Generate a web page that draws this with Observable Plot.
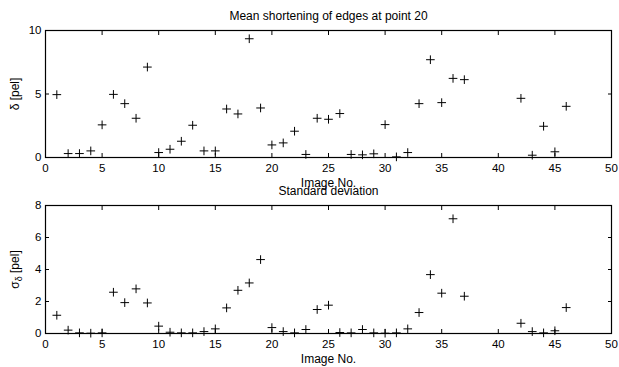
<!DOCTYPE html>
<html>
<head>
<meta charset="utf-8">
<script src="https://cdn.jsdelivr.net/npm/d3@7"></script>
<script src="https://cdn.jsdelivr.net/npm/@observablehq/plot@0.6"></script>
<style>
  body { margin: 0; background: white; }
  #chart { position: relative; width: 619px; height: 367px; background: white; overflow: hidden; }
  #chart svg { position: absolute; left: 0; }
</style>
</head>
<body>
<div id="chart"></div>
<script>
const imageNo = [1,2,3,4,5,6,7,8,9,10,11,12,13,14,15,16,17,18,19,20,21,22,23,24,25,26,27,28,29,30,31,32,33,34,35,36,37,42,43,44,45,46];
const meanShortening = [4.95,0.31,0.31,0.52,2.57,4.97,4.24,3.09,7.12,0.39,0.65,1.28,2.54,0.52,0.52,3.82,3.43,9.35,3.90,0.99,1.15,2.07,0.24,3.09,3.01,3.46,0.24,0.21,0.29,2.59,0.05,0.39,4.24,7.70,4.32,6.23,6.13,4.66,0.18,2.46,0.45,4.03];
const stdDeviation = [1.14,0.21,0.04,0.02,0.04,2.58,1.93,2.79,1.91,0.46,0.08,0.04,0.04,0.12,0.29,1.60,2.70,3.16,4.62,0.37,0.12,0.04,0.25,1.50,1.77,0.06,0.04,0.25,0.04,0.02,0.04,0.29,1.31,3.68,2.52,7.17,2.33,0.64,0.12,0.04,0.17,1.62];
const xTicks = [0,5,10,15,20,25,30,35,40,45,50];
const yTicksMean = [0,5,10];
const yTicksStd = [0,2,4,6,8];
const titleMean = "Mean shortening of edges at point 20";
const titleStd = "Standard deviation";
const xLabel = "Image No.";
const yLabelMean = "δ [pel]";
const yLabelStd = "σδ [pel]";

function panel(values, yDomain, yTicks, title, ylabel, height, marginTop, marginBottom) {
  const data = imageNo.map((x, i) => ({x, y: values[i]}));
  return Plot.plot({
    width: 619,
    height,
    marginLeft: 45,
    marginRight: 8,
    marginTop,
    marginBottom,
    style: {fontFamily: "'Liberation Sans', Arial, sans-serif", fontSize: "11.5px", background: "transparent", overflow: "visible", color: "black"},
    x: {domain: [0, 50]},
    y: {domain: yDomain},
    marks: [
      Plot.frame({stroke: "black", strokeWidth: 1.2}),
      Plot.axisX(xTicks, {anchor: "bottom", tickSize: 0, tickPadding: 6, label: null}),
      Plot.axisX(xTicks, {anchor: "bottom", tickSize: 4, dy: -4, text: null, label: null}),
      Plot.axisX(xTicks, {anchor: "top", tickSize: 4, dy: 4, text: null, label: null}),
      Plot.axisY(yTicks, {anchor: "left", tickSize: 0, tickPadding: 4, label: null}),
      Plot.axisY(yTicks, {anchor: "left", tickSize: 4, dx: 4, text: null, label: null}),
      Plot.axisY(yTicks, {anchor: "right", tickSize: 4, dx: -4, text: null, label: null}),
      Plot.dot(data, {x: "x", y: "y", symbol: "plus", r: 2.9, stroke: "black", strokeWidth: 1}),
      Plot.text([title], {frameAnchor: "top", dy: -11, lineAnchor: "bottom", fontSize: 12}),
      Plot.text([xLabel], {frameAnchor: "bottom", dy: 29, lineAnchor: "bottom", fontSize: 12}),
      Plot.text([ylabel], {frameAnchor: "left", dx: -27, rotate: -90, lineAnchor: "bottom", textAnchor: "middle", fontSize: 12})
    ]
  });
}

const topPanel = panel(meanShortening, [0, 10], yTicksMean, titleMean, yLabelMean, 177, 30, 20);
const bottomPanel = panel(stdDeviation, [0, 8], yTicksStd, titleStd, yLabelStd, 190, 28, 34);
topPanel.style.top = "0px";
bottomPanel.style.top = "177px";
const chart = document.getElementById("chart");
chart.appendChild(topPanel);
chart.appendChild(bottomPanel);

// subscript δ in the lower y label
bottomPanel.querySelectorAll("text").forEach(t => {
  if (t.textContent === yLabelStd) {
    const ns = "http://www.w3.org/2000/svg";
    while (t.firstChild) t.removeChild(t.firstChild);
    const a = document.createElementNS(ns, "tspan"); a.textContent = "σ";
    const b = document.createElementNS(ns, "tspan"); b.textContent = "δ"; b.setAttribute("font-size", "9"); b.setAttribute("dy", "3");
    const c = document.createElementNS(ns, "tspan"); c.textContent = " [pel]"; c.setAttribute("dy", "-3");
    t.appendChild(a); t.appendChild(b); t.appendChild(c);
  }
});
</script>
</body>
</html>
